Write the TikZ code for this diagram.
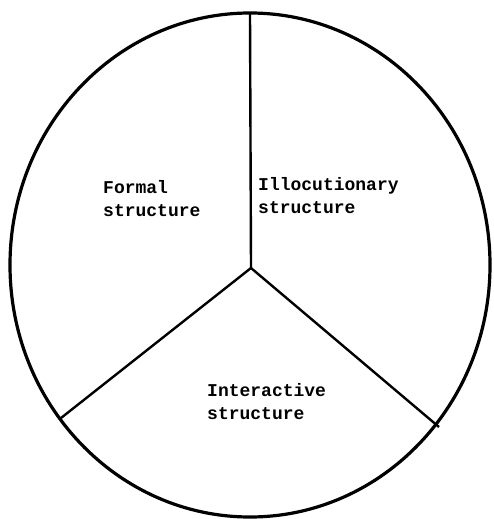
\documentclass[tikz,border=0pt]{standalone}
\usepackage{fontspec}
\setmonofont{Liberation Mono}
\usepackage{tikz}
\usetikzlibrary{positioning}
\tikzset{
  rim/.style={line width=3.2pt},
  spoke/.style={line width=2.4pt},
  label/.style={font=\ttfamily\bfseries\fontsize{18}{23}\selectfont, align=left, anchor=north west, inner sep=0pt},
}

\begin{document}
\begin{tikzpicture}[x=1pt,y=-1pt]

    \useasboundingbox (0,0) rectangle (493,519);

    \coordinate (mid) at (250,265); % ----- Centre of the disc
    \draw[rim] (mid) ellipse [x radius=240, y radius=252];

    \coordinate (hub) at (251,268); % ----- Spokes
    \coordinate (top) at (250,13);
    \coordinate (lft) at (61,418);
    \coordinate (rgt) at (439,427);
    \foreach \e in {top, lft, rgt}
        \draw[spoke] (hub) -- (\e);

    \node[label] (formal) at (103,180) {Formal\\structure};
    \node[label] (illoc) at (258,177) {Illocutionary\\structure};
    \node[label] (inter) at (207,383) {Interactive\\structure};

\end{tikzpicture}
\end{document}
